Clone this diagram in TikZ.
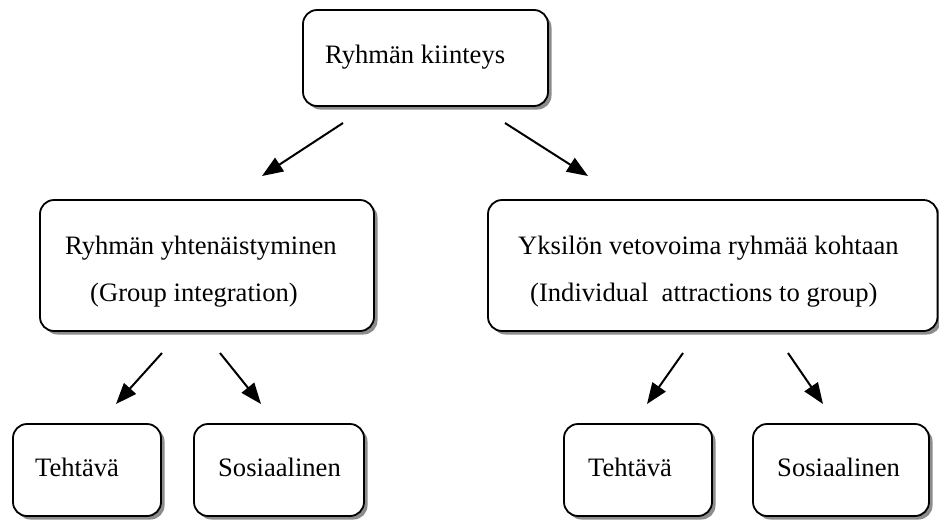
\documentclass[tikz,border=0pt]{standalone}
\usepackage{fontspec}
\setmainfont{Liberation Serif}
\usetikzlibrary{shadows,arrows.meta}
\begin{document}
\begin{tikzpicture}[x=1pt,y=-1pt,
  box/.style={draw=black, line width=1.8pt, fill=white, rounded corners=14pt,
    inner sep=0pt,
    drop shadow={shadow xshift=3.5pt, shadow yshift=-3.5pt, fill=black!45, opacity=1}},
  lbl/.style={anchor=base west, inner sep=0pt, font=\fontsize{26.6}{30}\selectfont},
  arr/.style={line width=2pt, -{Triangle[length=21pt,width=16pt]}}
]
\useasboundingbox (0,0) rectangle (939,520);

% boxes
\node[box, minimum width=245pt, minimum height=96pt] (top) at (425.5,58) {};
\node[box, minimum width=334pt, minimum height=131pt] (grp) at (207,265.5) {};
\node[box, minimum width=449.5pt, minimum height=131pt] (ind) at (712.75,265.5) {};
\node[box, minimum width=148pt, minimum height=92pt] (gt) at (87,470) {};
\node[box, minimum width=170pt, minimum height=92pt] (gs) at (279,470) {};
\node[box, minimum width=148pt, minimum height=92pt] (it) at (638,470) {};
\node[box, minimum width=176pt, minimum height=92pt] (is) at (841,470) {};

% labels
\node[lbl] (topT) at (325,63) {Ryhmän kiinteys};
\node[lbl] (grpA) at (65,254) {Ryhmän yhtenäistyminen};
\node[lbl] (grpB) at (90,301) {(Group integration)};
\node[lbl] (indA) at (518,254) {Yksilön vetovoima ryhmää kohtaan};
\node[lbl] (indB) at (530,301) {(Individual\ \ attractions to group)};
\node[lbl] (gtT) at (35,476) {Tehtävä};
\node[lbl] (gsT) at (218,476) {Sosiaalinen};
\node[lbl] (itT) at (588,476) {Tehtävä};
\node[lbl] (isT) at (777,476) {Sosiaalinen};

% arrow ends
\coordinate (a1s) at (343,123); \coordinate (a1e) at (262,176);
\coordinate (a2s) at (505,123); \coordinate (a2e) at (588,176);
\coordinate (b1s) at (162,353); \coordinate (b1e) at (116,404);
\coordinate (b2s) at (220,353); \coordinate (b2e) at (261,404);
\coordinate (c1s) at (683,353); \coordinate (c1e) at (647,404);
\coordinate (c2s) at (788,353); \coordinate (c2e) at (823,404);

\draw[arr] (a1s) -- (a1e);
\draw[arr] (a2s) -- (a2e);
\draw[arr] (b1s) -- (b1e);
\draw[arr] (b2s) -- (b2e);
\draw[arr] (c1s) -- (c1e);
\draw[arr] (c2s) -- (c2e);
\end{tikzpicture}
\end{document}
